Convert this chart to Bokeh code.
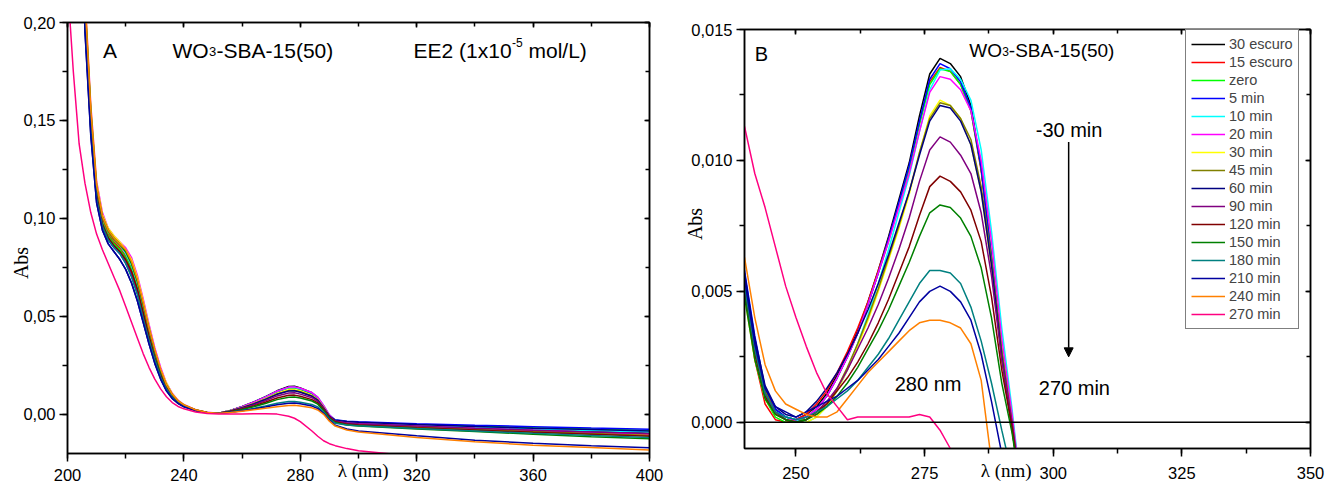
import math
from bokeh.plotting import figure
from bokeh.models import (LinearAxis, SingleIntervalTicker, CustomJSTickFormatter, Label,
                          Legend, LegendItem, Span, Arrow, NormalHead, Range1d)
from bokeh.layouts import row, column
from bokeh.embed import file_html
from bokeh.resources import INLINE

SANS = "Liberation Sans"
SERIF = "Liberation Serif"

series_labels = ["30 escuro", "15 escuro", "zero", "5 min", "10 min", "20 min", "30 min", "45 min",
                 "60 min", "90 min", "120 min", "150 min", "180 min", "210 min", "240 min", "270 min"]
series_colors = ["#000000", "#FF0000", "#00FF00", "#0000FF", "#00FFFF", "#FF00FF", "#FFFF00", "#808000",
                 "#000080", "#800080", "#800000", "#008000", "#008080", "#0000A0", "#FF8000", "#FF0080"]

# ---------------- Panel A: full spectra 200-400 nm ----------------
wl_a = [200, 202, 204, 206, 208, 210, 212, 214, 216, 218, 220, 222, 224, 226, 228, 230, 232, 234, 236, 238,
        240, 244, 248, 252, 256, 260, 264, 268, 272, 276, 278, 280, 284, 286, 288, 290, 292, 296, 300,
        320, 340, 360, 380, 400]

a_30_escuro = [0.60, 0.45, 0.32, 0.205, 0.150, 0.113, 0.098, 0.091, 0.087, 0.084, 0.080, 0.074, 0.065, 0.053, 0.041, 0.030, 0.021, 0.014, 0.0095, 0.0065, 0.0045,
               0.0022, 0.0009, 0.0006,
               0.0020, 0.0040, 0.0063, 0.0090, 0.0120, 0.0142, 0.0143, 0.0134, 0.0110, 0.0085, 0.0040,
               -0.0008, -0.0032, -0.0042, -0.0046, -0.0058, -0.0068, -0.0078, -0.0087, -0.0095]
a_15_escuro = [0.60, 0.45, 0.32, 0.207, 0.151, 0.114, 0.099, 0.092, 0.088, 0.085, 0.081, 0.075, 0.066, 0.054, 0.042, 0.031, 0.021, 0.014, 0.0095, 0.0065, 0.0045,
               0.0021, 0.0008, 0.0005,
               0.0019, 0.0038, 0.0060, 0.0086, 0.0115, 0.0135, 0.0136, 0.0128, 0.0105, 0.0082, 0.0038,
               -0.0010, -0.0035, -0.0046, -0.0050, -0.0062, -0.0074, -0.0085, -0.0096, -0.0105]
a_zero = [0.60, 0.45, 0.32, 0.206, 0.150, 0.113, 0.098, 0.091, 0.087, 0.084, 0.080, 0.074, 0.065, 0.053, 0.041, 0.030, 0.021, 0.014, 0.0094, 0.0064, 0.0044,
          0.0021, 0.0008, 0.0005,
          0.0019, 0.0038, 0.0060, 0.0086, 0.0115, 0.0135, 0.0136, 0.0128, 0.0106, 0.0083, 0.0039,
          -0.0008, -0.0030, -0.0039, -0.0042, -0.0052, -0.0060, -0.0068, -0.0075, -0.0082]
a_5 = [0.59, 0.44, 0.31, 0.200, 0.146, 0.110, 0.096, 0.089, 0.085, 0.082, 0.077, 0.071, 0.062, 0.050, 0.038, 0.028, 0.020, 0.013, 0.0088, 0.0060, 0.0042,
       0.0020, 0.0008, 0.0005,
       0.0020, 0.0039, 0.0062, 0.0088, 0.0118, 0.0139, 0.0140, 0.0132, 0.0108, 0.0084, 0.0040,
       -0.0006, -0.0028, -0.0035, -0.0038, -0.0048, -0.0056, -0.0063, -0.0070, -0.0076]
a_10 = [0.61, 0.46, 0.33, 0.209, 0.153, 0.115, 0.100, 0.093, 0.089, 0.086, 0.082, 0.076, 0.067, 0.055, 0.043, 0.031, 0.022, 0.015, 0.0098, 0.0067, 0.0046,
        0.0022, 0.0009, 0.0005,
        0.0019, 0.0038, 0.0060, 0.0087, 0.0117, 0.0137, 0.0138, 0.0131, 0.0110, 0.0088, 0.0045,
        -0.0003, -0.0030, -0.0041, -0.0045, -0.0056, -0.0066, -0.0075, -0.0083, -0.0090]
a_20 = [0.62, 0.47, 0.34, 0.215, 0.158, 0.119, 0.103, 0.095, 0.091, 0.088, 0.085, 0.080, 0.071, 0.059, 0.046, 0.034, 0.024, 0.016, 0.0108, 0.0072, 0.0050,
        0.0024, 0.0010, 0.0006,
        0.0020, 0.0039, 0.0062, 0.0088, 0.0118, 0.0139, 0.0140, 0.0133, 0.0111, 0.0088, 0.0045,
        -0.0003, -0.0031, -0.0043, -0.0047, -0.0060, -0.0071, -0.0081, -0.0091, -0.0100]
a_30 = [0.62, 0.47, 0.34, 0.214, 0.157, 0.118, 0.102, 0.095, 0.091, 0.088, 0.084, 0.079, 0.070, 0.058, 0.045, 0.033, 0.023, 0.016, 0.0105, 0.0070, 0.0049,
        0.0023, 0.0009, 0.0005,
        0.0018, 0.0035, 0.0055, 0.0080, 0.0107, 0.0125, 0.0126, 0.0119, 0.0097, 0.0076, 0.0036,
        -0.0010, -0.0035, -0.0047, -0.0052, -0.0066, -0.0078, -0.0090, -0.0100, -0.0110]
a_45 = [0.61, 0.46, 0.33, 0.210, 0.154, 0.116, 0.100, 0.093, 0.089, 0.086, 0.083, 0.077, 0.068, 0.056, 0.043, 0.032, 0.022, 0.015, 0.0100, 0.0068, 0.0047,
        0.0022, 0.0009, 0.0005,
        0.0017, 0.0034, 0.0054, 0.0077, 0.0104, 0.0121, 0.0122, 0.0115, 0.0094, 0.0073, 0.0034,
        -0.0011, -0.0036, -0.0048, -0.0052, -0.0065, -0.0077, -0.0088, -0.0098, -0.0108]
a_60 = [0.58, 0.43, 0.30, 0.195, 0.142, 0.108, 0.094, 0.087, 0.083, 0.079, 0.074, 0.067, 0.058, 0.047, 0.036, 0.026, 0.018, 0.012, 0.0080, 0.0055, 0.0038,
        0.0019, 0.0008, 0.0005,
        0.0017, 0.0034, 0.0053, 0.0076, 0.0102, 0.0119, 0.0120, 0.0113, 0.0092, 0.0072, 0.0033,
        -0.0009, -0.0030, -0.0037, -0.0040, -0.0052, -0.0062, -0.0071, -0.0078, -0.0085]
a_90 = [0.59, 0.44, 0.31, 0.201, 0.147, 0.111, 0.097, 0.090, 0.086, 0.083, 0.078, 0.072, 0.063, 0.051, 0.039, 0.029, 0.020, 0.013, 0.0090, 0.0061, 0.0043,
        0.0021, 0.0008, 0.0005,
        0.0015, 0.0031, 0.0048, 0.0069, 0.0094, 0.0109, 0.0110, 0.0103, 0.0085, 0.0066, 0.0030,
        -0.0012, -0.0034, -0.0044, -0.0048, -0.0060, -0.0071, -0.0081, -0.0090, -0.0098]
a_120 = [0.60, 0.45, 0.32, 0.204, 0.149, 0.112, 0.097, 0.090, 0.086, 0.083, 0.079, 0.073, 0.064, 0.052, 0.040, 0.029, 0.020, 0.014, 0.0092, 0.0063, 0.0044,
         0.0021, 0.0008, 0.0005,
         0.0014, 0.0027, 0.0043, 0.0062, 0.0083, 0.0097, 0.0098, 0.0092, 0.0075, 0.0058, 0.0025,
         -0.0015, -0.0038, -0.0050, -0.0055, -0.0068, -0.0080, -0.0092, -0.0102, -0.0112]
a_150 = [0.61, 0.46, 0.33, 0.211, 0.155, 0.116, 0.101, 0.094, 0.090, 0.087, 0.083, 0.077, 0.068, 0.056, 0.044, 0.032, 0.022, 0.015, 0.0100, 0.0068, 0.0047,
         0.0022, 0.0009, 0.0005,
         0.0012, 0.0025, 0.0039, 0.0055, 0.0075, 0.0087, 0.0088, 0.0083, 0.0068, 0.0052, 0.0020,
         -0.0020, -0.0042, -0.0055, -0.0060, -0.0075, -0.0088, -0.0102, -0.0114, -0.0125]
a_180 = [0.59, 0.44, 0.31, 0.200, 0.146, 0.110, 0.096, 0.089, 0.085, 0.082, 0.077, 0.070, 0.061, 0.049, 0.038, 0.028, 0.019, 0.013, 0.0087, 0.0059, 0.0041,
         0.0020, 0.0008, 0.0005,
         0.0011, 0.0020, 0.0030, 0.0042, 0.0056, 0.0065, 0.0066, 0.0062, 0.0050, 0.0038, 0.0012,
         -0.0025, -0.0045, -0.0054, -0.0058, -0.0072, -0.0085, -0.0097, -0.0108, -0.0118]
a_210 = [0.58, 0.43, 0.30, 0.196, 0.143, 0.108, 0.094, 0.087, 0.083, 0.079, 0.074, 0.067, 0.058, 0.047, 0.036, 0.026, 0.018, 0.012, 0.0081, 0.0056, 0.0039,
         0.0019, 0.0008, 0.0005,
         0.0010, 0.0018, 0.0027, 0.0037, 0.0049, 0.0057, 0.0058, 0.0054, 0.0042, 0.0030, 0.0005,
         -0.0030, -0.0055, -0.0075, -0.0085, -0.0110, -0.0132, -0.0148, -0.0160, -0.0171]
a_240 = [0.61, 0.46, 0.33, 0.212, 0.156, 0.117, 0.101, 0.094, 0.090, 0.087, 0.084, 0.078, 0.069, 0.057, 0.044, 0.033, 0.023, 0.015, 0.0102, 0.0069, 0.0048,
         0.0023, 0.0009, 0.0005,
         0.0009, 0.0016, 0.0023, 0.0031, 0.0039, 0.0045, 0.0046, 0.0043, 0.0033, 0.0022, 0.0000,
         -0.0035, -0.0060, -0.0080, -0.0090, -0.0118, -0.0140, -0.0158, -0.0170, -0.0182]
a_270 = [0.22, 0.175, 0.138, 0.118, 0.103, 0.092, 0.084, 0.077, 0.070, 0.063, 0.055, 0.047, 0.039, 0.031, 0.024, 0.018, 0.013, 0.009, 0.006, 0.004, 0.0028,
         0.0012, 0.0004, 0.0001,
         0.0001, 0.0002, 0.0003, 0.0003, 0.0001, -0.0010, -0.0020, -0.0037, -0.0085, -0.0112, -0.0135,
         -0.0150, -0.0160, -0.0175, -0.0186, -0.0215, -0.0240, -0.0260, -0.0280, -0.0300]

# ---------------- Panel B: zoom 240-350 nm ----------------
wl_b = [240, 242, 244, 246, 248, 250, 252, 254, 256, 258, 260, 262, 264, 266, 268, 270, 272, 274, 276, 278,
        280, 282, 284, 286, 288, 290, 292, 294]

b_30_escuro = [0.0055, 0.0030, 0.0012, 0.0005, 0.0002, 0.0001, 0.0003, 0.0006, 0.0011, 0.0018, 0.0026, 0.0035, 0.0046, 0.0058, 0.0071, 0.0085, 0.0099, 0.0117, 0.0133, 0.0139, 0.0137, 0.0132, 0.0121, 0.0097, 0.0062, 0.0025, -0.0003, -0.0030]
b_15_escuro = [0.0050, 0.0024, 0.0007, 0.0001, 0.0000, 0.0001, 0.0003, 0.0007, 0.0012, 0.0019, 0.0027, 0.0036, 0.0046, 0.0058, 0.0070, 0.0083, 0.0097, 0.0114, 0.0130, 0.01355, 0.0134, 0.0129, 0.0119, 0.0096, 0.0063, 0.0027, 0.0000, -0.0030]
b_zero = [0.0052, 0.0027, 0.0009, 0.0002, 0.0000, 0.0000, 0.0002, 0.0005, 0.0010, 0.0017, 0.0025, 0.0034, 0.0045, 0.0057, 0.0069, 0.0083, 0.0097, 0.0114, 0.0129, 0.0135, 0.0134, 0.0129, 0.0119, 0.0097, 0.0064, 0.0028, 0.0001, -0.0030]
b_5 = [0.0058, 0.0033, 0.0013, 0.0005, 0.0002, 0.0001, 0.0002, 0.0005, 0.0010, 0.0017, 0.0025, 0.0034, 0.0045, 0.0057, 0.0070, 0.0084, 0.0098, 0.0115, 0.0131, 0.0137, 0.0135, 0.0130, 0.0120, 0.0097, 0.0063, 0.0026, -0.0001, -0.0030]
b_10 = [0.0050, 0.0026, 0.0010, 0.0004, 0.0002, 0.0001, 0.0000, 0.0002, 0.0006, 0.0012, 0.0020, 0.0030, 0.0041, 0.0053, 0.0066, 0.0080, 0.0094, 0.0111, 0.0127, 0.01345, 0.0135, 0.0131, 0.0123, 0.0104, 0.0073, 0.0036, 0.0005, -0.0030]
b_20 = [0.0054, 0.0029, 0.0011, 0.0004, 0.0001, 0.0001, 0.0002, 0.0005, 0.0010, 0.0017, 0.0025, 0.0034, 0.0045, 0.0057, 0.0069, 0.0082, 0.0095, 0.0111, 0.0126, 0.0132, 0.0131, 0.0127, 0.0119, 0.0100, 0.0069, 0.0032, 0.0003, -0.0030]
b_30 = [0.0048, 0.0024, 0.0009, 0.0003, 0.0001, 0.0000, 0.0000, 0.0002, 0.0006, 0.0012, 0.0020, 0.0029, 0.0039, 0.0050, 0.0062, 0.0074, 0.0087, 0.0103, 0.0117, 0.0123, 0.0121, 0.0116, 0.0106, 0.0088, 0.0059, 0.0024, -0.0002, -0.0030]
b_45 = [0.0055, 0.0030, 0.0012, 0.0004, 0.0001, 0.0000, 0.0001, 0.0003, 0.0007, 0.0013, 0.0021, 0.0030, 0.0040, 0.0051, 0.0063, 0.0075, 0.0088, 0.0103, 0.0116, 0.0122, 0.0121, 0.0116, 0.0108, 0.0090, 0.0062, 0.0027, 0.0000, -0.0030]
b_60 = [0.0057, 0.0032, 0.0014, 0.0006, 0.0003, 0.0002, 0.0004, 0.0008, 0.0013, 0.0019, 0.0026, 0.0034, 0.0043, 0.0053, 0.0064, 0.0076, 0.0088, 0.0102, 0.0115, 0.0121, 0.0120, 0.0115, 0.0106, 0.0088, 0.0060, 0.0025, -0.0002, -0.0030]
b_90 = [0.0053, 0.0028, 0.0011, 0.0004, 0.0001, 0.0000, 0.0001, 0.0004, 0.0008, 0.0013, 0.0020, 0.0028, 0.0036, 0.0045, 0.0055, 0.0066, 0.0078, 0.0092, 0.0104, 0.0109, 0.0107, 0.0102, 0.0095, 0.0080, 0.0056, 0.0024, 0.0000, -0.0030]
b_120 = [0.0050, 0.0026, 0.0010, 0.0003, 0.0001, 0.0000, 0.0001, 0.0004, 0.0007, 0.0012, 0.0017, 0.0023, 0.0030, 0.0038, 0.0047, 0.0057, 0.0067, 0.0079, 0.0090, 0.0094, 0.0092, 0.0088, 0.0081, 0.0069, 0.0048, 0.0020, -0.0002, -0.0030]
b_150 = [0.0048, 0.0024, 0.0009, 0.0003, 0.0001, 0.0000, 0.0001, 0.0003, 0.0006, 0.0010, 0.0015, 0.0021, 0.0028, 0.0035, 0.0043, 0.0052, 0.0061, 0.0071, 0.0080, 0.0083, 0.0082, 0.0078, 0.0071, 0.0059, 0.0040, 0.0015, -0.0004, -0.0030]
b_180 = [0.0052, 0.0028, 0.0011, 0.0004, 0.0002, 0.0001, 0.0002, 0.0004, 0.0006, 0.0009, 0.0012, 0.0016, 0.0021, 0.0026, 0.0032, 0.0039, 0.0046, 0.0053, 0.0058, 0.0058, 0.0057, 0.0053, 0.0044, 0.0031, 0.0015, -0.0003, -0.0020, -0.0035]
b_210 = [0.0055, 0.0030, 0.0013, 0.0006, 0.0004, 0.0002, 0.0004, 0.0006, 0.0008, 0.0010, 0.0013, 0.0016, 0.0020, 0.0024, 0.0029, 0.0034, 0.0040, 0.0046, 0.0050, 0.0052, 0.0050, 0.0046, 0.0039, 0.0026, 0.0008, -0.0012, -0.0030, -0.0040]
b_240 = [0.0063, 0.0040, 0.0022, 0.0012, 0.0007, 0.0005, 0.0003, 0.0002, 0.0002, 0.0004, 0.0009, 0.0014, 0.0019, 0.0023, 0.0027, 0.0031, 0.0035, 0.0038, 0.0039, 0.0039, 0.0038, 0.0036, 0.0030, 0.0016, -0.0015, -0.0030, -0.0040, -0.0040]
b_270 = [0.0113, 0.0095, 0.0082, 0.0067, 0.0052, 0.0040, 0.0029, 0.0019, 0.0011, 0.0006, 0.0001, 0.0002, 0.0002, 0.0002, 0.0002, 0.0002, 0.0002, 0.0003, 0.0002, -0.0003, -0.0010, -0.0020, -0.0030, -0.0040, -0.0040, -0.0040, -0.0040, -0.0040]

series_a = [a_30_escuro, a_15_escuro, a_zero, a_5, a_10, a_20, a_30, a_45, a_60, a_90, a_120, a_150, a_180, a_210, a_240, a_270]
series_b = [b_30_escuro, b_15_escuro, b_zero, b_5, b_10, b_20, b_30, b_45, b_60, b_90, b_120, b_150, b_180, b_210, b_240, b_270]

TICK_FONT = "16.5px"
NBSP = "\u00a0"


def style(p, xint, yint, ydigits, xlabel, ylabel, x_als, y_als, x_so):
    p.xgrid.visible = False
    p.ygrid.visible = False
    p.background_fill_color = "white"
    p.border_fill_color = "white"
    p.outline_line_color = "black"
    p.outline_line_width = 1.5
    xt = SingleIntervalTicker(interval=xint, num_minor_ticks=2)
    yt = SingleIntervalTicker(interval=yint, num_minor_ticks=2)
    fmt = CustomJSTickFormatter(code="return tick.toFixed(%d).replace('.', ',');" % ydigits)
    for ax in list(p.xaxis) + list(p.yaxis):
        ax.axis_line_width = 1.5
        ax.axis_line_color = "black"
        ax.major_tick_line_width = 1.5
        ax.minor_tick_line_width = 1.5
        ax.major_tick_out = 8
        ax.major_tick_in = 0
        ax.minor_tick_out = 5
        ax.minor_tick_in = 0
        ax.major_label_text_font = SANS
        ax.major_label_text_font_size = TICK_FONT
        ax.major_label_text_color = "black"
        ax.major_label_standoff = 4
        ax.axis_label_text_font = SERIF
        ax.axis_label_text_font_style = "normal"
        ax.axis_label_text_font_size = "19px"
        ax.axis_label_text_color = "black"
    for ax in p.xaxis:
        ax.ticker = xt
        ax.axis_label = xlabel
        ax.axis_label_standoff = x_als
        ax.major_label_standoff = x_so
    for ax in p.yaxis:
        ax.ticker = yt
        ax.formatter = fmt
        ax.axis_label = ylabel
        ax.axis_label_standoff = y_als
        ax.axis_label_text_font_size = "20px"
    empty = CustomJSTickFormatter(code="return '';")
    for loc, tk in (("above", xt), ("right", yt)):
        ax = LinearAxis(ticker=tk, formatter=empty, major_tick_in=5, major_tick_out=0,
                        minor_tick_in=4, minor_tick_out=0, axis_line_color="black", axis_line_width=1.5,
                        major_tick_line_width=1.5, minor_tick_line_width=1.5, major_label_standoff=0)
        p.add_layout(ax, loc)


def lab(p, x, y, text, size, font=SANS, **kw):
    p.add_layout(Label(x=x, y=y, text=text, text_font=font, text_font_size=size,
                       text_color="black", **kw))


# ---------- figure A ----------
pA = figure(width=681, height=484, x_range=Range1d(200, 400), y_range=Range1d(-0.02, 0.20),
            output_backend="svg", toolbar_location=None,
            min_border_left=67, min_border_right=32, min_border_top=22, min_border_bottom=31)
style(pA, 40, 0.05, 2, NBSP * 2 + "λ (nm)", "Abs" + NBSP * 10, -24, -12, 7)
for ys, c in zip(series_a, series_colors):
    pA.line(wl_a, ys, line_color=c, line_width=1.5)

lab(pA, 212.2, 0.1857, "A", "21px", text_baseline="alphabetic")
lab(pA, 236.1, 0.1857, "WO", "21px", text_baseline="alphabetic")
lab(pA, 236.1, 0.1857, "3", "13px", text_baseline="alphabetic", x_offset=36.5, y_offset=-1)
lab(pA, 236.1, 0.1857, "-SBA-15(50)", "21px", text_baseline="alphabetic", x_offset=44)
lab(pA, 318.9, 0.1857, "EE2 (1x10", "21px", text_baseline="alphabetic")
lab(pA, 318.9, 0.1857, "-5", "12px", text_baseline="alphabetic", x_offset=98.5, y_offset=8)
lab(pA, 318.9, 0.1857, "mol/L)", "21px", text_baseline="alphabetic", x_offset=115)

# ---------- figure B ----------
pB = figure(width=645, height=484, x_range=Range1d(240, 350), y_range=Range1d(-0.001, 0.015),
            output_backend="svg", toolbar_location=None,
            min_border_left=53, min_border_right=16, min_border_top=29, min_border_bottom=36)
style(pB, 25, 0.005, 3, "λ (nm)" + NBSP * 9, NBSP * 6 + "Abs", -22, -18, 10)
pB.add_layout(Span(location=0, dimension="width", line_color="black", line_width=1.5))
renderers = []
for ys, c in zip(series_b, series_colors):
    renderers.append(pB.line(wl_b, ys, line_color=c, line_width=1.5))

lab(pB, 242.0, 0.01405, "B", "20px", text_baseline="alphabetic")
lab(pB, 283.7, 0.0142, "WO", "19px", text_baseline="alphabetic")
lab(pB, 283.7, 0.0142, "3", "12px", text_baseline="alphabetic", x_offset=33, y_offset=-1)
lab(pB, 283.7, 0.0142, "-SBA-15(50)", "19px", text_baseline="alphabetic", x_offset=39.5)
lab(pB, 296.6, 0.01115, "-30 min", "20px", text_baseline="alphabetic")
lab(pB, 297.2, 0.0013, "270 min", "20px", text_baseline="alphabetic")
lab(pB, 269.2, 0.00145, "280 nm", "20px", text_baseline="alphabetic")
pB.add_layout(Arrow(end=NormalHead(size=9, fill_color="black", line_color="black"),
                    x_start=303.0, y_start=0.0107, x_end=303.0, y_end=0.0025,
                    line_color="black", line_width=1.5))

items = [LegendItem(label=l, renderers=[r]) for l, r in zip(series_labels, renderers)]
legend = Legend(items=items, location=(441, 119), border_line_color="black", border_line_width=1,
                background_fill_color="white", background_fill_alpha=1.0,
                label_text_font=SANS, label_text_font_size="14.5px", label_height=18, glyph_height=18,
                glyph_width=34, label_standoff=4, spacing=0, padding=5, margin=0)
pB.add_layout(legend)

layout = row(column(pA), column(pB))
open("out.html", "w").write(file_html(layout, INLINE))
